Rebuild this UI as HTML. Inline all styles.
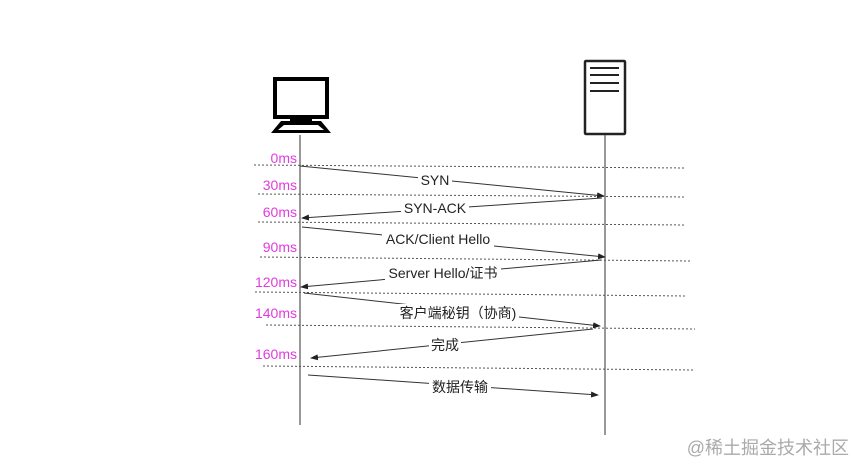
<!DOCTYPE html>
<html><head><meta charset="utf-8"><style>
body{margin:0;background:#fff;width:854px;height:465px;overflow:hidden}
svg{display:block}
text{font-family:"Liberation Sans","Noto Sans CJK SC",sans-serif}
</style></head><body>
<svg width="854" height="465" viewBox="0 0 854 465" xmlns="http://www.w3.org/2000/svg">
<defs><marker id="a" markerWidth="8" markerHeight="6" refX="7" refY="3" orient="auto" markerUnits="userSpaceOnUse"><path d="M0,0L8,3L0,6z" fill="#222"/></marker></defs>
<rect x="275" y="79" width="52" height="38" fill="#fff" stroke="#000" stroke-width="4"/>
<rect x="290" y="117" width="22" height="5" fill="#000"/>
<path d="M281,121 L321,121 L331,133 L271,133 Z" fill="#000"/>
<path d="M284,125 L318,125 L324,130 L278,130 Z" fill="#fff"/>
<rect x="585" y="61" width="40" height="73" rx="1" fill="#fff" stroke="#222" stroke-width="2.5"/>
<g stroke="#222" stroke-width="2"><line x1="590" y1="68" x2="619" y2="68"/><line x1="590" y1="75" x2="619" y2="75"/><line x1="590" y1="83" x2="619" y2="83"/><line x1="590" y1="91" x2="619" y2="91"/></g>
<line x1="300" y1="135" x2="300" y2="425" stroke="#555" stroke-width="1.2"/>
<line x1="605" y1="135" x2="605" y2="435" stroke="#555" stroke-width="1.2"/>
<g stroke="#555" stroke-width="1" stroke-dasharray="2,2">
<line x1="254" y1="165" x2="685" y2="168"/>
<line x1="258" y1="194" x2="685" y2="197"/>
<line x1="258" y1="222" x2="685" y2="225"/>
<line x1="260" y1="257" x2="690" y2="261"/>
<line x1="255" y1="292" x2="686" y2="296"/>
<line x1="266" y1="325" x2="695" y2="329"/>
<line x1="263" y1="366" x2="693" y2="370"/>
</g>
<g stroke="#333" stroke-width="1" marker-end="url(#a)">
<line x1="300" y1="166" x2="604" y2="196"/>
<line x1="602" y1="198" x2="302" y2="218"/>
<line x1="302" y1="227" x2="605" y2="257"/>
<line x1="601" y1="260" x2="301" y2="287"/>
<line x1="304" y1="293" x2="600" y2="326"/>
<line x1="593" y1="329" x2="311" y2="358"/>
<line x1="308" y1="375" x2="598" y2="395"/>
</g>
<g font-size="14" fill="#222" text-anchor="middle">
<rect x="418" y="172" width="34" height="16" fill="#fff"/><text x="435" y="185">SYN</text>
<rect x="401" y="200" width="68" height="16" fill="#fff"/><text x="435" y="213">SYN-ACK</text>
<rect x="382" y="231" width="112" height="16" fill="#fff"/><text x="438" y="244">ACK/Client Hello</text>
<rect x="385" y="265" width="116" height="17" fill="#fff"/><text x="443" y="278">Server Hello/证书</text>
<rect x="397" y="304" width="122" height="18" fill="#fff"/><text x="458" y="318">客户端秘钥（协商)</text>
<rect x="429" y="337" width="32" height="18" fill="#fff"/><text x="445" y="350">完成</text>
<rect x="429" y="378" width="62" height="18" fill="#fff"/><text x="460" y="392">数据传输</text>
</g>
<g font-size="14" fill="#e03ce0" text-anchor="end">
<text x="297" y="163">0ms</text>
<text x="297" y="190">30ms</text>
<text x="297" y="217">60ms</text>
<text x="297" y="252">90ms</text>
<text x="297" y="287">120ms</text>
<text x="297" y="318">140ms</text>
<text x="297" y="359">160ms</text>
</g>
<text x="849" y="454" font-size="18" fill="#aaa" text-anchor="end">@稀土掘金技术社区</text>
</svg>
</body></html>
